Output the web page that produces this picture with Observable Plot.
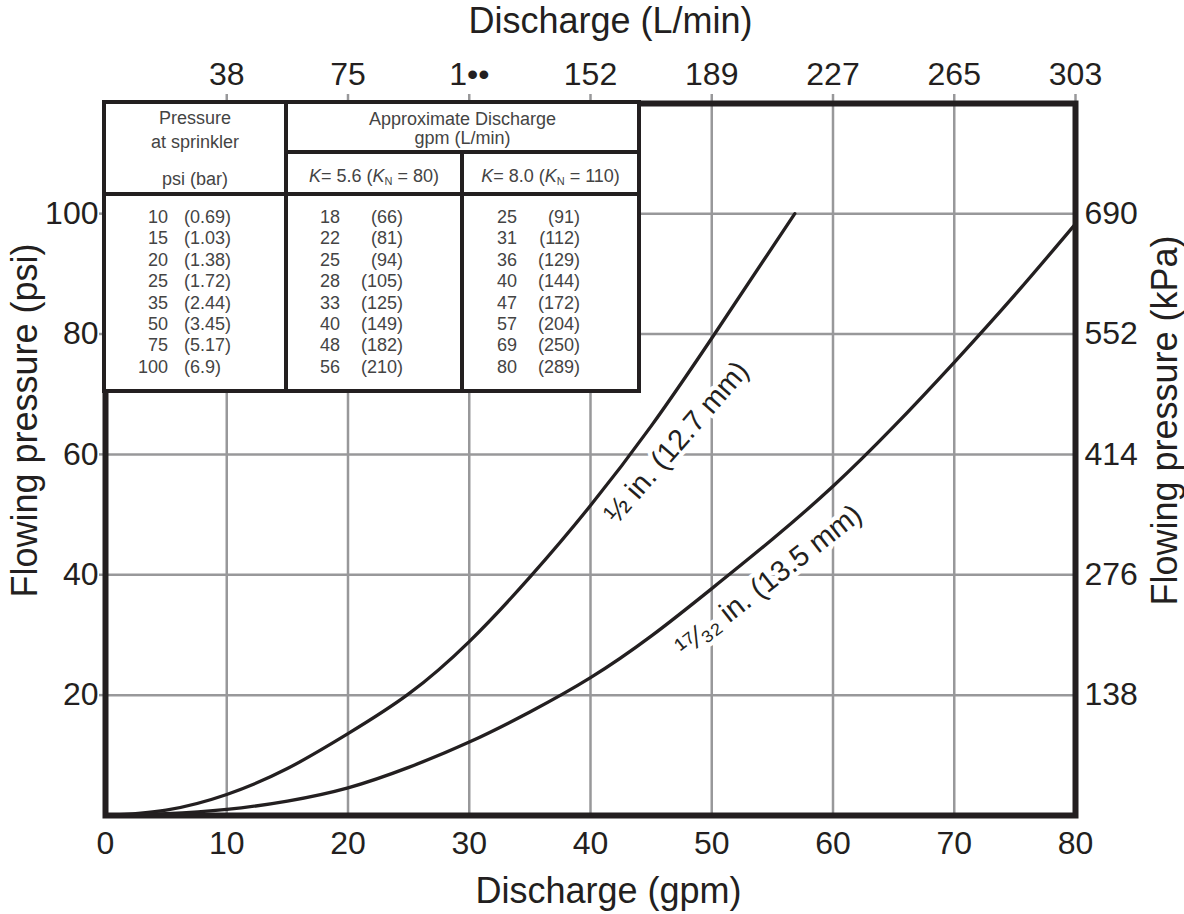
<!DOCTYPE html>
<html>
<head>
<meta charset="utf-8">
<script src="https://cdn.jsdelivr.net/npm/d3@7"></script>
<script src="https://cdn.jsdelivr.net/npm/@observablehq/plot@0.6"></script>
<style>
  body { margin: 0; background: #fff; }
  #wrap { position: relative; width: 1184px; height: 914px; font-family: "Liberation Sans", Arial, Helvetica, sans-serif; }
  .tbl { position: absolute; left: 102px; top: 100px; width: 539px; height: 293px; box-sizing: border-box;
         background: #231f20; padding: 4px; display: grid; gap: 4px;
         grid-template-columns: 178px 172px 173px; grid-template-rows: 46px 38px 193px; }
  .c { background: #fff; position: relative; color: #444; font-size: 18px; line-height: 19px; }
  .t { position: absolute; left: 0; right: 0; text-align: center; white-space: nowrap; }
  .body { padding-top: 11px; box-sizing: border-box; }
  .ln { height: 21.4px; line-height: 21.4px; white-space: nowrap; }
  .ln span { display: inline-block; }
  .r { text-align: right; }
  sub { font-size: 11px; vertical-align: -3px; line-height: 0; }
</style>
</head>
<body>
<div id="wrap"></div>
<script>
// ---- data ----
const gpmTicks = [0, 10, 20, 30, 40, 50, 60, 70, 80];
const gpmGrid = [10, 20, 30, 40, 50, 60, 70];
const lpmTickGpm = [10, 20, 30, 40, 50, 60, 70, 80];
const lpmLabels = ["38", "75", "1••", "152", "189", "227", "265", "303"];
const psiTicks = [20, 40, 60, 80, 100];
const kpaLabels = ["138", "276", "414", "552", "690"];

// 1/2 in. (12.7 mm) curve
const q127 = [0, 5, 10, 15, 20, 25, 30, 35, 40, 45, 50, 56.85];
const p127 = [0, 0.9, 3.5, 7.8, 13.6, 20.2, 28.9, 39.6, 51.5, 64.7, 79.3, 100];
// 17/32 in. (13.5 mm) curve
const q135 = [0, 5, 10, 15, 20, 25, 30, 35, 40, 45, 50, 55, 60, 65, 70, 75, 80];
const p135 = [0, 0.3, 1.0, 2.4, 4.6, 8.0, 12.2, 17.2, 22.9, 29.8, 37.7, 45.9, 54.7, 64.6, 75.3, 86.5, 98.3];

const curveLabels = ["½ in. (12.7 mm)", "¹⁷⁄₃₂ in. (13.5 mm)"];
const labelQ = [47.1, 54.7];
const labelP = [62.0, 39.0];

// table
const pressurePsi = [10, 15, 20, 25, 35, 50, 75, 100];
const pressureBar = ["0.69", "1.03", "1.38", "1.72", "2.44", "3.45", "5.17", "6.9"];
const gpmK56 = [18, 22, 25, 28, 33, 40, 48, 56];
const lpmK56 = [66, 81, 94, 105, 125, 149, 182, 210];
const gpmK80 = [25, 31, 36, 40, 47, 57, 69, 80];
const lpmK80 = [91, 112, 129, 144, 172, 204, 250, 289];

// ---- chart ----
const ink = "#231f20";
const gridColor = "#98989a";
const font = '"Liberation Sans", Arial, Helvetica, sans-serif';
const lpmMap = new Map(lpmTickGpm.map((g, i) => [g, lpmLabels[i]]));
const kpaMap = new Map(psiTicks.map((p, i) => [p, kpaLabels[i]]));
const c127 = q127.map((q, i) => ({q, p: p127[i]}));
const c135 = q135.map((q, i) => ({q, p: p135[i]}));
const lab = curveLabels.map((t, i) => ({t, q: labelQ[i], p: labelP[i]}));

const titleOpts = {fontSize: 36, fill: ink, textAnchor: "middle", lineAnchor: "middle"};

const chart = Plot.plot({
  width: 1184, height: 914,
  marginLeft: 105, marginRight: 109, marginTop: 103, marginBottom: 99,
  x: {domain: [0, 80]},
  y: {domain: [0, 118.3]},
  style: {fontFamily: font, background: "white", color: ink},
  marks: [
    Plot.gridX(gpmGrid, {stroke: gridColor, strokeOpacity: 1, strokeWidth: 2.5}),
    Plot.gridY(psiTicks, {stroke: gridColor, strokeOpacity: 1, strokeWidth: 2.5}),
    Plot.line(c127, {x: "q", y: "p", stroke: ink, strokeWidth: 3.3, curve: "natural"}),
    Plot.line(c135, {x: "q", y: "p", stroke: ink, strokeWidth: 3.3, curve: "natural"}),
    Plot.text([lab[0]], {x: "q", y: "p", text: "t", rotate: -49, fontSize: 29, fill: ink, stroke: "white", strokeWidth: 9}),
    Plot.text([lab[1]], {x: "q", y: "p", text: "t", rotate: -38, fontSize: 29, fill: ink, stroke: "white", strokeWidth: 9}),
    Plot.axisX(gpmTicks, {anchor: "bottom", label: null, tickSize: 0, tickPadding: 16, fontSize: 32, fill: ink}),
    Plot.axisX(lpmTickGpm, {anchor: "top", label: null, tickSize: 10, tickPadding: 9, fontSize: 32, fill: ink, stroke: gridColor, strokeWidth: 2.5, tickFormat: d => lpmMap.get(d)}),
    Plot.axisY(psiTicks, {anchor: "left", label: null, tickSize: 6, tickPadding: 1, fontSize: 32, fill: ink, stroke: gridColor, strokeWidth: 2.5}),
    Plot.axisY(psiTicks, {anchor: "right", label: null, tickSize: 0, tickPadding: 9, fontSize: 32, fill: ink, tickFormat: d => kpaMap.get(d)}),
    Plot.frame({stroke: ink, strokeWidth: 6}),
    Plot.text(["Discharge (gpm)"], {...titleOpts, frameAnchor: "bottom", dx: 18, dy: 76}),
    Plot.text(["Discharge (L/min)"], {...titleOpts, frameAnchor: "top", dx: 20, dy: -82}),
    Plot.text(["Flowing pressure (psi)"], {...titleOpts, frameAnchor: "left", dx: -80, dy: -39, rotate: -90}),
    Plot.text(["Flowing pressure (kPa)"], {...titleOpts, frameAnchor: "right", dx: 90, dy: -39, rotate: -90})
  ]
});

const wrap = document.getElementById("wrap");
wrap.appendChild(chart);

// ---- table overlay ----
function lines(a, b, w1, gap, w2, alignB) {
  return a.map((v, i) =>
    `<div class="ln"><span class="r" style="width:${w1}px">${v}</span><span style="margin-left:${gap}px;width:${w2}px;text-align:${alignB}">(${b[i]})</span></div>`
  ).join("");
}
const tbl = document.createElement("div");
tbl.className = "tbl";
tbl.innerHTML = `
  <div class="c" style="grid-row:1/3;grid-column:1">
    <div class="t" style="top:5px">Pressure</div>
    <div class="t" style="top:29px">at sprinkler</div>
    <div class="t" style="top:66px">psi (bar)</div>
  </div>
  <div class="c" style="grid-row:1;grid-column:2/4">
    <div class="t" style="top:6px">Approximate Discharge</div>
    <div class="t" style="top:25px">gpm (L/min)</div>
  </div>
  <div class="c" style="grid-row:2;grid-column:2"><div class="t" style="top:13px"><i>K</i>= 5.6 (<i>K</i><sub>N</sub> = 80)</div></div>
  <div class="c" style="grid-row:2;grid-column:3"><div class="t" style="top:13px"><i>K</i>= 8.0 (<i>K</i><sub>N</sub> = 110)</div></div>
  <div class="c body" style="grid-row:3;grid-column:1">${lines(pressurePsi, pressureBar, 62, 16, 62, "left")}</div>
  <div class="c body" style="grid-row:3;grid-column:2">${lines(gpmK56, lpmK56, 52, 0, 63, "right")}</div>
  <div class="c body" style="grid-row:3;grid-column:3">${lines(gpmK80, lpmK80, 53, 0, 63, "right")}</div>
`;
wrap.appendChild(tbl);
</script>
</body>
</html>
